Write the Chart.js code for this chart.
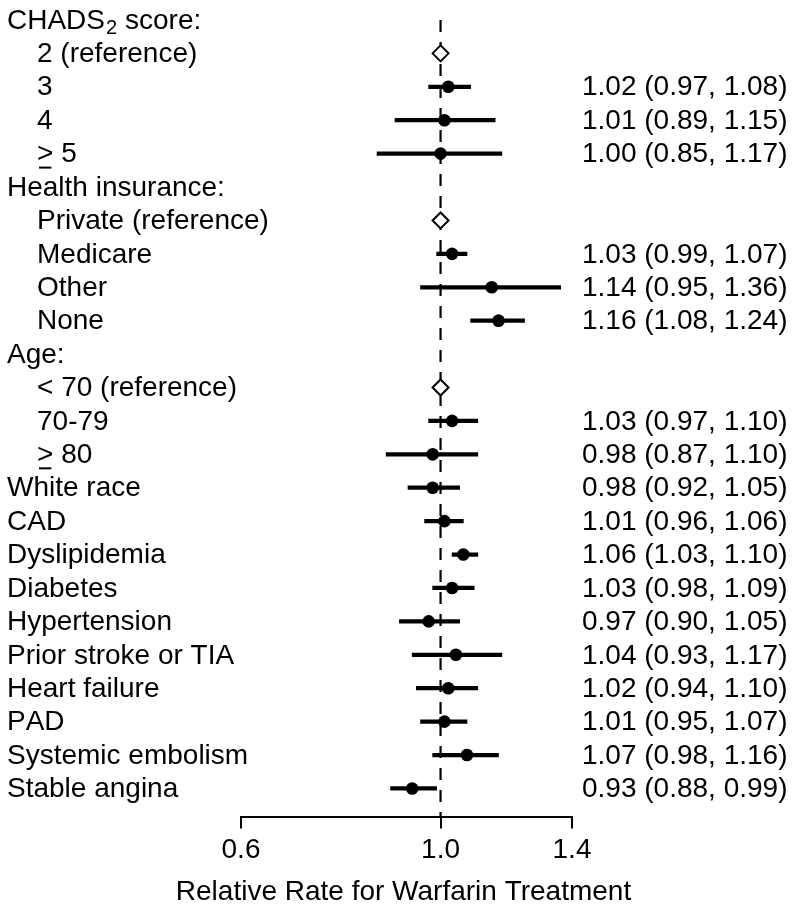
<!DOCTYPE html>
<html>
<head>
<meta charset="utf-8">
<title>Relative Rate for Warfarin Treatment</title>
<script src="https://cdn.jsdelivr.net/npm/chart.js"></script>
<style>
  html, body { margin: 0; padding: 0; background: #fff; }
  #wrap { width: 795px; height: 911px; position: relative; }
</style>
</head>
<body>
<div id="wrap"><canvas id="forest"></canvas></div>
<script>
// rows, top to bottom
const rowLabels = [
  "CHADS\u2082 score:", "2 (reference)", "3", "4", "\u2265 5",
  "Health insurance:", "Private (reference)", "Medicare", "Other", "None",
  "Age:", "< 70 (reference)", "70-79", "\u2265 80",
  "White race", "CAD", "Dyslipidemia", "Diabetes", "Hypertension",
  "Prior stroke or TIA", "Heart failure", "PAD", "Systemic embolism", "Stable angina"
];
// 0 = group heading / single row, 1 = level inside a group
const rowIndent = [0, 1, 1, 1, 1, 0, 1, 1, 1, 1, 0, 1, 1, 1, 0, 0, 0, 0, 0, 0, 0, 0, 0, 0];
const estimates = [null, 1.00, 1.02, 1.01, 1.00, null, 1.00, 1.03, 1.14, 1.16, null, 1.00, 1.03, 0.98,
  0.98, 1.01, 1.06, 1.03, 0.97, 1.04, 1.02, 1.01, 1.07, 0.93];
const lowerCI = [null, null, 0.97, 0.89, 0.85, null, null, 0.99, 0.95, 1.08, null, null, 0.97, 0.87,
  0.92, 0.96, 1.03, 0.98, 0.90, 0.93, 0.94, 0.95, 0.98, 0.88];
const upperCI = [null, null, 1.08, 1.15, 1.17, null, null, 1.07, 1.36, 1.24, null, null, 1.10, 1.10,
  1.05, 1.06, 1.10, 1.09, 1.05, 1.17, 1.10, 1.07, 1.16, 0.99];
const xTicks = [0.6, 1.0, 1.4];
const xTitle = "Relative Rate for Warfarin Treatment";

const FONT = "'Liberation Sans', Arial, Helvetica, sans-serif";
const FONT_SIZE = 28;
const Y_MIN = -0.597;
const Y_MAX = 23.866;

Chart.defaults.font.family = FONT;
Chart.defaults.color = "#000";

const ciData = [];
const pointData = [];
const refData = [];
rowLabels.forEach((_, i) => {
  if (estimates[i] == null) return;
  if (lowerCI[i] == null) {
    refData.push({ x: estimates[i], y: i });
    return;
  }
  ciData.push({ x: [lowerCI[i], upperCI[i]], y: i });
  pointData.push({ x: estimates[i], y: i });
});

// label text: small lowered "2" for the subscript, ">" with underline for >=
function drawLabel(ctx, text, x, y) {
  let cx = x;
  const main = `${FONT_SIZE}px ${FONT}`;
  for (const ch of text) {
    if (ch === "\u2082") {
      ctx.font = `${FONT_SIZE * 0.72}px ${FONT}`;
      ctx.fillText("2", cx + 1, y + 7);
      cx += ctx.measureText("2").width + 1;
    } else if (ch === "\u2265") {
      ctx.font = main;
      ctx.fillText(">", cx, y);
      const w = ctx.measureText(">").width;
      ctx.fillRect(cx + 2, y + 12, w - 4, 2);
      cx += w;
    } else {
      ctx.font = main;
      ctx.fillText(ch, cx, y);
      cx += ctx.measureText(ch).width;
    }
  }
}

const rowText = {
  id: "rowText",
  afterDatasetsDraw(chart) {
    const { ctx, chartArea, scales: { y } } = chart;
    ctx.save();
    ctx.fillStyle = "#000";
    ctx.textBaseline = "middle";
    ctx.textAlign = "left";
    rowLabels.forEach((label, i) => {
      const py = y.getPixelForValue(i) + 1;
      drawLabel(ctx, label, rowIndent[i] ? 37 : 7, py);
      if (lowerCI[i] != null) {
        ctx.font = `${FONT_SIZE}px ${FONT}`;
        const txt = `${estimates[i].toFixed(2)} (${lowerCI[i].toFixed(2)}, ${upperCI[i].toFixed(2)})`;
        ctx.fillText(txt, 582, py);
      }
    });
    // axis title, drawn here so it is not squeezed to the plot width
    ctx.font = `${FONT_SIZE}px ${FONT}`;
    ctx.textAlign = "center";
    ctx.fillText(xTitle, (chartArea.left + chartArea.right) / 2 - 3, chart.height - 19);
    ctx.restore();
  }
};

new Chart(document.getElementById("forest"), {
  type: "scatter",
  data: {
    datasets: [
      {
        type: "scatter",
        data: pointData,
        pointRadius: 6.3,
        pointBackgroundColor: "#000",
        pointBorderColor: "#000",
        pointBorderWidth: 0
      },
      {
        type: "scatter",
        data: refData,
        pointStyle: "rectRot",
        pointRadius: 8,
        pointBackgroundColor: "#fff",
        pointBorderColor: "#000",
        pointBorderWidth: 2
      },
      {
        type: "bar",
        indexAxis: "y",
        data: ciData,
        backgroundColor: "#000",
        barThickness: 3.6,
        borderWidth: 0
      },
      {
        type: "line",
        data: [{ x: 1, y: 0 }, { x: 1, y: Y_MAX }],
        borderColor: "#000",
        borderWidth: 2.2,
        borderDash: [12, 10],
        pointRadius: 0,
        fill: false
      }
    ]
  },
  options: {
    responsive: true,
    maintainAspectRatio: false,
    animation: false,
    layout: { autoPadding: false, padding: { left: 241, right: 223, top: 0, bottom: 39 } },
    plugins: {
      legend: { display: false },
      tooltip: { enabled: false }
    },
    scales: {
      x: {
        type: "logarithmic",
        min: 0.6,
        max: 1.4,
        offset: false,
        afterBuildTicks: (axis) => {
          axis.ticks = xTicks.map((v) => ({ value: v }));
        },
        ticks: {
          callback: (v) => Number(v).toFixed(1),
          font: { size: FONT_SIZE },
          color: "#000",
          padding: 5,
          maxRotation: 0,
          autoSkip: false
        },
        grid: {
          offset: false,
          drawOnChartArea: false,
          drawTicks: true,
          tickLength: 11,
          color: "#000",
          lineWidth: 2
        },
        border: { display: true, color: "#000", width: 2 },
        title: { display: false }
      },
      y: {
        type: "linear",
        reverse: true,
        min: Y_MIN,
        max: Y_MAX,
        offset: false,
        grid: { offset: false },
        display: false
      }
    }
  },
  plugins: [rowText]
});
</script>
</body>
</html>
